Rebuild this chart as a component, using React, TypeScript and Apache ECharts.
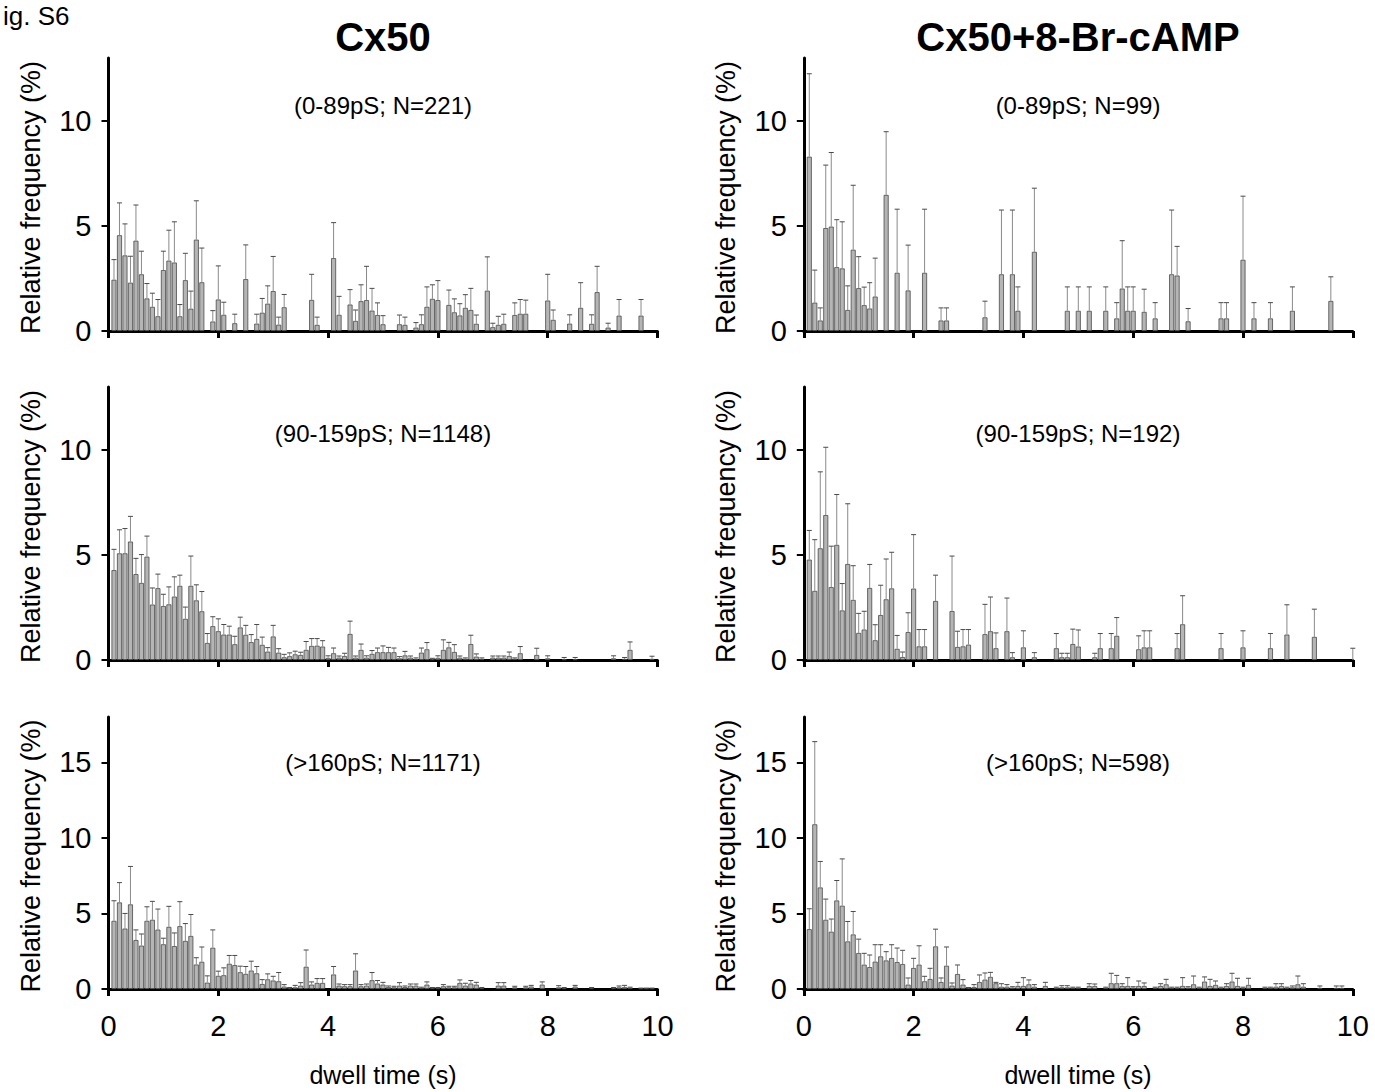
import React, { useEffect, useRef } from "react";
import * as echarts from "echarts";

// Bin centres (s): histogram bins of 0.1 s, plotted at 0.1 ... 10.0
const binTimes: number[] = Array.from({ length: 100 }, (_, i) => Math.round(i + 1) / 10);

// ---- Cx50, 0-89 pS ----
const cx50LowValues = [
  2.44, 4.56, 3.6, 2.3, 4.3, 2.7, 1.55, 1.15, 0.7, 2.9,
  3.35, 3.26, 0.7, 2.42, 1.06, 4.35, 2.32, 0, 0.45, 1.5,
  0.77, 0, 0.37, 0, 2.47, 0, 0.35, 0.87, 1.3, 1.9,
  0.3, 1.13, 0, 0, 0, 0, 1.48, 0.29, 0, 0,
  3.47, 0.77, 0, 1.26, 0.48, 1.42, 1.47, 0.97, 0.76, 0.32,
  0, 0, 0.32, 0.29, 0, 0.16, 0.32, 1.15, 1.53, 1.47,
  0, 1.24, 0.89, 0.74, 1.1, 1.0, 0.34, 0, 1.92, 0.18,
  0.29, 0.34, 0, 0.76, 0.82, 0.82, 0, 0, 0, 1.45,
  0.53, 0, 0, 0.35, 0, 1.1, 0, 0.34, 1.85, 0,
  0.16, 0, 0.73, 0, 0, 0, 0.73, 0, 0, 0,
];
const cx50LowUpper = [
  3.4, 6.1, 5.1, 3.56, 6.0, 3.8, 2.26, 1.8, 1.5, 3.8,
  4.8, 5.2, 1.26, 3.7, 1.9, 6.2, 3.95, 0, 0.97, 3.1,
  1.37, 0, 0.8, 0, 4.1, 0, 0.8, 1.55, 2.15, 3.55,
  0.66, 1.74, 0, 0, 0, 0, 2.7, 0.66, 0, 0,
  5.16, 1.65, 0, 1.97, 1.0, 2.2, 3.08, 2.03, 1.34, 0.73,
  0, 0, 0.76, 0.66, 0, 0.4, 0.77, 2.1, 2.2, 2.4,
  0, 1.95, 1.53, 1.3, 1.73, 2.03, 0.76, 0, 3.53, 0.37,
  0.7, 0.8, 0, 1.34, 1.5, 1.47, 0, 0, 0, 2.7,
  1.0, 0, 0, 0.77, 0, 2.3, 0, 0.77, 3.08, 0,
  0.37, 0, 1.5, 0, 0, 0, 1.5, 0, 0, 0,
];

// ---- Cx50+8-Br-cAMP, 0-89 pS ----
const campLowValues = [
  8.3, 1.35, 0.5, 4.9, 4.97, 3.04, 2.98, 1.0, 3.87, 2.04,
  1.23, 1.07, 1.64, 0, 6.48, 0, 2.77, 0, 1.93, 0,
  0, 2.77, 0, 0, 0.5, 0.5, 0, 0, 0, 0,
  0, 0, 0.65, 0, 0, 2.7, 0, 2.7, 0.96, 0,
  0, 3.77, 0, 0, 0, 0, 0, 0.96, 0, 0.96,
  0, 0.96, 0, 0, 0.96, 0, 0.6, 2.02, 0.96, 0.96,
  0, 0.91, 0, 0.6, 0, 0, 2.7, 2.64, 0, 0.46,
  0, 0, 0, 0, 0, 0.6, 0.6, 0, 0, 3.39,
  0, 0.6, 0, 0, 0.6, 0, 0, 0, 0.96, 0,
  0, 0, 0, 0, 0, 1.43, 0, 0, 0, 0,
];
const campLowUpper = [
  12.25, 2.9, 1.1, 7.9, 8.5, 5.3, 5.2, 2.15, 6.94, 3.54,
  2.09, 2.3, 3.47, 0, 9.49, 0, 5.8, 0, 4.09, 0,
  0, 5.8, 0, 0, 1.1, 1.1, 0, 0, 0, 0,
  0, 0, 1.42, 0, 0, 5.76, 0, 5.76, 2.1, 0,
  0, 6.8, 0, 0, 0, 0, 0, 2.1, 0, 2.1,
  0, 2.1, 0, 0, 2.1, 0, 1.35, 4.3, 2.1, 2.1,
  0, 1.99, 0, 1.35, 0, 0, 5.76, 4.03, 0, 1.07,
  0, 0, 0, 0, 0, 1.35, 1.35, 0, 0, 6.42,
  0, 1.35, 0, 0, 1.35, 0, 0, 0, 2.1, 0,
  0, 0, 0, 0, 0, 2.58, 0, 0, 0, 0,
];

// ---- Cx50, 90-159 pS ----
const cx50MidValues = [
  4.28, 5.08, 5.08, 5.64, 4.09, 3.67, 4.92, 2.64, 3.42, 2.57,
  2.65, 3.02, 3.53, 1.96, 3.53, 2.84, 2.32, 0.81, 1.61, 1.37,
  1.21, 1.21, 0.75, 1.55, 1.2, 0.85, 1.0, 0.72, 0.4, 1.12,
  0.35, 0.13, 0.18, 0.27, 0.24, 0.48, 0.67, 0.68, 0.64, 0.1,
  0.32, 0.11, 0.19, 1.24, 0.11, 0.48, 0.11, 0.29, 0.37, 0.37,
  0.37, 0.37, 0.08, 0.22, 0.11, 0.05, 0.35, 0.51, 0.03, 0.1,
  0.48, 0.6, 0.38, 0.11, 0.06, 0.76, 0.16, 0.05, 0, 0.11,
  0.11, 0.11, 0.19, 0.06, 0.32, 0, 0, 0.24, 0, 0.08,
  0, 0, 0.03, 0, 0.03, 0, 0, 0, 0, 0,
  0, 0.08, 0, 0.05, 0.48, 0, 0, 0, 0.05, 0,
];
const cx50MidUpper = [
  5.27, 6.2, 6.26, 6.84, 4.84, 5.02, 5.9, 3.43, 4.09, 3.13,
  3.48, 3.96, 4.04, 2.52, 4.95, 3.58, 3.26, 1.26, 2.06, 1.96,
  1.69, 1.61, 1.13, 2.04, 1.65, 1.21, 1.69, 1.09, 0.59, 1.65,
  0.54, 0.27, 0.34, 0.42, 0.37, 0.88, 1.02, 1.02, 0.92, 0.2,
  0.57, 0.19, 0.32, 1.85, 0.19, 0.76, 0.2, 0.45, 0.57, 0.67,
  0.6, 0.57, 0.16, 0.41, 0.19, 0.1, 0.57, 0.83, 0.08, 0.2,
  0.96, 0.84, 0.73, 0.19, 0.1, 1.18, 0.29, 0.1, 0, 0.19,
  0.19, 0.19, 0.38, 0.1, 0.64, 0, 0, 0.56, 0, 0.2,
  0, 0, 0.12, 0, 0.12, 0, 0, 0, 0, 0,
  0, 0.2, 0, 0.12, 0.86, 0, 0, 0, 0.18, 0,
];

// ---- Cx50+8-Br-cAMP, 90-159 pS ----
const campMidValues = [
  4.78, 3.29, 5.32, 6.9, 3.47, 5.48, 2.36, 4.57, 2.86, 1.29,
  1.45, 3.43, 0.94, 2.14, 2.89, 3.41, 0.53, 0.14, 1.33, 3.4,
  0.65, 0.65, 0, 2.81, 0, 0, 2.33, 0.62, 0.65, 0.73,
  0, 0, 1.23, 1.37, 0.56, 0, 1.37, 0.13, 0, 0.6,
  0, 0.13, 0, 0, 0, 0.56, 0.13, 0.13, 0.76, 0.64,
  0, 0, 0.13, 0.56, 0, 0.56, 1.15, 0, 0, 0,
  0.51, 0.6, 0.6, 0, 0, 0, 0, 0.56, 1.7, 0,
  0, 0, 0, 0, 0, 0.56, 0, 0, 0, 0.6,
  0, 0, 0, 0, 0.56, 0, 0, 1.21, 0, 0,
  0, 0, 1.1, 0, 0, 0, 0, 0, 0, 0,
];
const campMidUpper = [
  6.17, 5.73, 8.96, 10.13, 5.42, 7.88, 3.64, 7.44, 4.49, 2.22,
  2.32, 4.55, 1.68, 3.56, 4.81, 5.13, 1.17, 0.38, 2.25, 5.97,
  1.45, 1.45, 0, 4.04, 0, 0, 4.95, 1.37, 1.45, 1.45,
  0, 0, 2.65, 3.0, 1.29, 0, 2.95, 0.35, 0, 1.39,
  0, 0.35, 0, 0, 0, 1.26, 0.32, 0.32, 1.47, 1.43,
  0, 0, 0.32, 1.26, 0, 1.26, 2.02, 0, 0, 0,
  1.15, 1.39, 1.39, 0, 0, 0, 0, 1.26, 3.06, 0,
  0, 0, 0, 0, 0, 1.26, 0, 0, 0, 1.39,
  0, 0, 0, 0, 1.26, 0, 0, 2.63, 0, 0,
  0, 0, 2.42, 0, 0, 0, 0, 0, 0, 0.56,
];

// ---- Cx50, >160 pS ----
const cx50HighValues = [
  4.51, 5.73, 4.0, 5.6, 3.24, 2.87, 4.51, 4.58, 3.93, 2.96,
  4.11, 2.84, 4.16, 3.18, 3.51, 1.62, 1.8, 0.42, 2.73, 0.87,
  0.91, 1.67, 1.58, 1.11, 1.0, 1.22, 1.04, 0.33, 0.64, 0.56,
  0.51, 0.16, 0.04, 0.11, 0.22, 1.47, 0.29, 0.4, 0.4, 0,
  0.96, 0.22, 0.18, 0.18, 1.22, 0.18, 0.22, 0.58, 0.36, 0.29,
  0.13, 0.11, 0.22, 0.13, 0.22, 0.22, 0.07, 0.29, 0.05, 0.05,
  0.18, 0.11, 0.11, 0.4, 0.22, 0.36, 0.29, 0.05, 0, 0,
  0.22, 0.22, 0, 0.11, 0, 0.11, 0.16, 0, 0.29, 0,
  0, 0.11, 0.05, 0, 0.16, 0, 0, 0.05, 0, 0,
  0, 0.05, 0.11, 0.13, 0.08, 0, 0.03, 0.03, 0.03, 0,
];
const cx50HighUpper = [
  5.84, 7.04, 5.0, 8.11, 3.91, 3.64, 5.44, 5.8, 5.29, 3.36,
  5.47, 3.71, 5.78, 4.33, 4.93, 2.07, 2.78, 0.87, 3.91, 1.18,
  1.4, 2.22, 2.22, 1.51, 1.49, 1.84, 1.49, 0.62, 1.0, 0.84,
  1.09, 0.29, 0.1, 0.24, 0.42, 2.58, 0.47, 0.69, 0.69, 0,
  1.49, 0.33, 0.29, 0.29, 2.33, 0.29, 0.33, 1.09, 0.56, 0.44,
  0.2, 0.18, 0.42, 0.2, 0.33, 0.33, 0.12, 0.47, 0.1, 0.1,
  0.29, 0.18, 0.18, 0.6, 0.38, 0.56, 0.44, 0.1, 0, 0,
  0.42, 0.42, 0, 0.18, 0, 0.18, 0.24, 0, 0.47, 0,
  0, 0.22, 0.1, 0, 0.24, 0, 0, 0.1, 0, 0,
  0, 0.1, 0.2, 0.24, 0.12, 0, 0.06, 0.06, 0.06, 0,
];

// ---- Cx50+8-Br-cAMP, >160 pS ----
const campHighValues = [
  3.96, 10.9, 6.72, 4.58, 3.79, 5.86, 5.51, 3.15, 3.61, 2.38,
  1.61, 1.45, 1.81, 2.16, 1.89, 2.05, 1.78, 1.65, 0.29, 1.39,
  1.61, 0.51, 0.66, 2.82, 0.46, 1.54, 0.22, 0.99, 0.29, 0.05,
  0.13, 0.46, 0.62, 0.8, 0.38, 0.15, 0.15, 0.09, 0.2, 0.2,
  0.31, 0.15, 0, 0.2, 0, 0.07, 0.11, 0.11, 0.07, 0.07,
  0, 0.2, 0.2, 0, 0.07, 0.38, 0.38, 0.2, 0.2, 0.09,
  0.2, 0.2, 0, 0.07, 0.2, 0.31, 0.07, 0.07, 0.2, 0.09,
  0.31, 0.07, 0.49, 0.2, 0.27, 0.07, 0.2, 0.49, 0.2, 0.07,
  0.27, 0, 0, 0.07, 0.07, 0.15, 0.2, 0.07, 0.11, 0.31,
  0.15, 0, 0, 0.07, 0, 0, 0.07, 0.07, 0, 0,
];
const campHighUpper = [
  5.31, 16.37, 8.44, 5.95, 4.63, 7.18, 8.61, 4.47, 5.13, 3.3,
  2.36, 2.25, 2.93, 2.93, 2.47, 2.93, 2.71, 2.56, 0.73, 2.03,
  2.86, 0.84, 1.37, 3.96, 0.73, 2.78, 0.4, 1.59, 0.62, 0.1,
  0.29, 0.93, 1.06, 1.1, 0.44, 0.35, 0.29, 0.15, 0.44, 0.75,
  0.6, 0.29, 0, 0.44, 0, 0.12, 0.22, 0.22, 0.12, 0.12,
  0, 0.35, 0.33, 0, 0.12, 1.04, 0.9, 0.35, 0.75, 0.15,
  0.53, 0.4, 0, 0.12, 0.35, 0.64, 0.12, 0.12, 0.75, 0.15,
  0.86, 0.12, 0.8, 0.64, 0.53, 0.12, 0.35, 1.04, 0.71, 0.12,
  0.71, 0, 0, 0.12, 0.12, 0.35, 0.35, 0.12, 0.2, 0.86,
  0.35, 0, 0, 0.2, 0, 0, 0.2, 0.2, 0, 0,
];

const figureLabel = "ig. S6";
const columnTitles = ["Cx50", "Cx50+8-Br-cAMP"];
const rowLabelsLeft = ["(0-89pS; N=221)", "(90-159pS; N=1148)", "(>160pS; N=1171)"];
const rowLabelsRight = ["(0-89pS; N=99)", "(90-159pS; N=192)", "(>160pS; N=598)"];
const rowYMax = [13, 13, 18];
const rowYTicks = [[0, 5, 10], [0, 5, 10], [0, 5, 10, 15]];
const xTickInterval = 2;
const yAxisTitle = "Relative frequency (%)";
const xAxisTitle = "dwell time (s)";

const FONT = "'Liberation Sans', Arial, Helvetica, sans-serif";

const panelsData = [
  [cx50LowValues, cx50LowUpper], [campLowValues, campLowUpper],
  [cx50MidValues, cx50MidUpper], [campMidValues, campMidUpper],
  [cx50HighValues, cx50HighUpper], [campHighValues, campHighUpper],
];

const colLeft = [108.5, 803.8];
const colWidth = 549;
const rowTop = [58, 387, 717];
const rowHeight = [273, 273, 272];
const colCenter = [383, 1078];

export default function App() {
  const ref = useRef<HTMLDivElement>(null);
  useEffect(() => {
    document.body.style.margin = "0";
    if (!ref.current) return;
    const chart = echarts.init(ref.current, undefined, { renderer: "svg" });

    const grids: any[] = [];
    const xAxes: any[] = [];
    const yAxes: any[] = [];
    const series: any[] = [];

    panelsData.forEach(([vals, ups], i) => {
      const row = Math.floor(i / 2);
      const col = i % 2;
      grids.push({ left: colLeft[col], top: rowTop[row], width: colWidth, height: rowHeight[row], containLabel: false });
      xAxes.push({
        type: "value", gridIndex: i, min: 0, max: 10, interval: xTickInterval,
        axisLine: { show: true, onZero: false, lineStyle: { color: "#000", width: 3 } },
        axisTick: { show: true, length: 7, lineStyle: { color: "#000", width: 3 } },
        axisLabel: { show: row === 2, fontSize: 29, color: "#000", fontFamily: FONT, margin: 22 },
        splitLine: { show: false },
      });
      yAxes.push({
        type: "value", gridIndex: i, min: 0, max: rowYMax[row],
        axisLine: { show: true, lineStyle: { color: "#000", width: 3 } },
        axisTick: { show: true, length: 7, customValues: rowYTicks[row], lineStyle: { color: "#000", width: 2 } },
        axisLabel: { show: true, customValues: rowYTicks[row], fontSize: 29, color: "#000", fontFamily: FONT, margin: 17 },
        splitLine: { show: false },
      });
      const barData: any[] = [];
      const errData: any[] = [];
      binTimes.forEach((t, k) => {
        if (vals[k] > 0) barData.push([t, vals[k]]);
        if (ups[k] > vals[k]) errData.push([t, vals[k], ups[k]]);
      });
      series.push({
        type: "bar", xAxisIndex: i, yAxisIndex: i, data: barData, barWidth: 5,
        itemStyle: { color: "#b5b5b5", borderColor: "#4a4a4a", borderWidth: 0.8 },
        z: 2, silent: true,
      });
      series.push({
        type: "custom", xAxisIndex: i, yAxisIndex: i, data: errData, z: 3, silent: true,
        encode: { x: 0, y: [1, 2] },
        renderItem: (params: any, api: any) => {
          const t = api.value(0), v = api.value(1), u = api.value(2);
          const p0 = api.coord([t, v]);
          const p1 = api.coord([t, u]);
          return {
            type: "group",
            children: [
              { type: "line", shape: { x1: p0[0], y1: p0[1], x2: p1[0], y2: p1[1] }, style: { stroke: "#8a8a8a", lineWidth: 1 } },
              { type: "line", shape: { x1: p1[0] - 2.5, y1: p1[1], x2: p1[0] + 2.5, y2: p1[1] }, style: { stroke: "#4a4a4a", lineWidth: 1 } },
            ],
          };
        },
      });
    });

    const graphics: any[] = [];
    graphics.push({ type: "text", x: 3, y: 16, style: { text: figureLabel, font: `26px ${FONT}`, fill: "#000", textAlign: "left", textVerticalAlign: "middle" } });
    columnTitles.forEach((t, c) => {
      graphics.push({ type: "text", x: colCenter[c], y: 37, style: { text: t, font: `bold 40px ${FONT}`, fill: "#000", textAlign: "center", textVerticalAlign: "middle" } });
      graphics.push({ type: "text", x: colCenter[c], y: 1075, style: { text: xAxisTitle, font: `25px ${FONT}`, fill: "#000", textAlign: "center", textVerticalAlign: "middle" } });
    });
    const annY = [105, 433, 762];
    const yNameX = [31, 726];
    for (let r = 0; r < 3; r++) {
      graphics.push({ type: "text", x: colCenter[0], y: annY[r], style: { text: rowLabelsLeft[r], font: `24px ${FONT}`, fill: "#000", textAlign: "center", textVerticalAlign: "middle" } });
      graphics.push({ type: "text", x: colCenter[1], y: annY[r], style: { text: rowLabelsRight[r], font: `24px ${FONT}`, fill: "#000", textAlign: "center", textVerticalAlign: "middle" } });
      const cy = rowTop[r] + rowHeight[r] / 2 + 3;
      for (let c = 0; c < 2; c++) {
        graphics.push({ type: "text", x: yNameX[c], y: cy, rotation: Math.PI / 2, style: { text: yAxisTitle, font: `27px ${FONT}`, fill: "#000", textAlign: "center", textVerticalAlign: "middle" } });
      }
    }

    chart.setOption({
      animation: false,
      backgroundColor: "#fff",
      grid: grids, xAxis: xAxes, yAxis: yAxes, series, graphic: graphics,
    });
    return () => chart.dispose();
  }, []);
  return <div ref={ref} style={{ width: 1375, height: 1092 }} />;
}
